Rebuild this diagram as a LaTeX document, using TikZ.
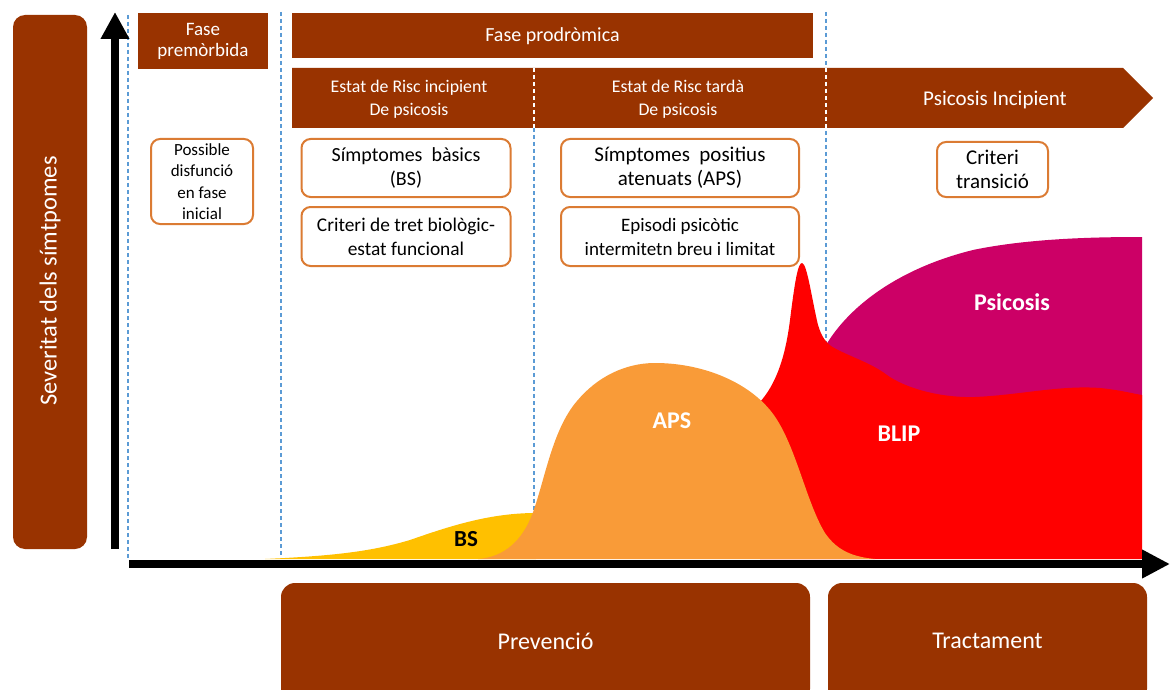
\documentclass[tikz,border=0pt]{standalone}
\usepackage{fontspec}
\setmainfont{Carlito}
\usetikzlibrary{arrows.meta}

\definecolor{phase}{HTML}{993300}
\definecolor{critedge}{HTML}{DB7B33}
\definecolor{divblue}{HTML}{5B9BD5}
\definecolor{bscol}{HTML}{FFC000}
\definecolor{apscol}{HTML}{F99B38}
\definecolor{blipcol}{HTML}{FF0000}
\definecolor{psicol}{HTML}{CC0066}

\tikzset{
  phasebox/.style={fill=phase, text=white, inner sep=0pt, outer sep=0pt, align=center},
  critbox/.style={draw=critedge, line width=2pt, rounded corners=9pt, fill=white,
    inner sep=0pt, outer sep=0pt, align=center, font=\fontsize{20}{24}\selectfont},
  actionbox/.style={fill=phase, text=white, rounded corners=14pt, inner sep=0pt,
    outer sep=0pt},
  actiontext/.style={text=white, font=\fontsize{24}{28}\selectfont},
  divider/.style={draw=divblue, line width=1.5pt, dash pattern=on 4pt off 3pt},
  divwhite/.style={draw=white, line width=1.5pt, dash pattern=on 4pt off 3pt},
  curvelabel/.style={font=\fontsize{24}{28}\selectfont\bfseries, text=white},
  axis/.style={line width=8.5pt, draw=black}
}

\begin{document}
\begin{tikzpicture}[x=1pt,y=-1pt]
\useasboundingbox (0,0) rectangle (1170,690);

% phase dividers
\coordinate (d1t) at (128,15);  \coordinate (d1b) at (128,560);
\coordinate (d2t) at (281,12);  \coordinate (d2b) at (281,557);
\coordinate (d3t) at (534,128); \coordinate (d3b) at (534,516);
\coordinate (d4t) at (826,12);  \coordinate (d4b) at (826,345);
\draw[divider] (d1t) -- (d1b);
\draw[divider] (d2t) -- (d2b);
\draw[divider] (d3t) -- (d3b);
\draw[divider] (d4t) -- (d4b);

% severity curves
\fill[psicol] (826,345) .. controls (850,305) and (900,268) .. (973,250)
  .. controls (1030,238) and (1100,237) .. (1142,237) -- (1142,420) -- (826,420) -- cycle;
\fill[blipcol] (760,559) -- (760,402) .. controls (775,385) and (785,360) .. (790,320)
  .. controls (795,280) and (798,263) .. (802,263)
  .. controls (807,263) and (812,300) .. (818,325)
  .. controls (822,338) and (826,342) .. (831,346)
  .. controls (845,355) and (870,362) .. (887,375)
  .. controls (905,388) and (940,398) .. (975,397)
  .. controls (1020,395) and (1060,385) .. (1100,388)
  .. controls (1120,390) and (1135,394) .. (1142,395) -- (1142,559) -- cycle;
\fill[bscol] (265,559) .. controls (330,556) and (370,552) .. (410,540)
  .. controls (450,526) and (490,513) .. (536,513) -- (536,559) -- cycle;
\fill[apscol] (478,559) .. controls (505,557) and (522,540) .. (532,515)
  .. controls (545,480) and (552,430) .. (577,401)
  .. controls (597,377) and (625,363) .. (655,363)
  .. controls (700,363) and (745,380) .. (770,410)
  .. controls (795,440) and (805,500) .. (825,533)
  .. controls (838,552) and (855,557) .. (875,559) -- cycle;

\node[font=\fontsize{23}{27}\selectfont\bfseries] (lbs) at (466,539) {BS};
\node[curvelabel] (laps) at (672,421) {APS};
\node[curvelabel] (lblip) at (899,434) {BLIP};
\node[curvelabel] (lpsi) at (1012,302) {Psicosis};

% vertical axis title
\node[phasebox, rounded corners=12pt, minimum width=74pt, minimum height=534pt]
  (sev) at (50,282) {};
\node[text=white, rotate=90, font=\fontsize{24.5}{28}\selectfont] (sevtext) at (50,281)
  {Severitat dels símtpomes};

% phase headers
\node[phasebox, minimum width=130pt, minimum height=56pt,
  font=\fontsize{19}{21}\selectfont] (premorb) at (203,41) {Fase\\premòrbida};
\node[phasebox, minimum width=521pt, minimum height=45pt,
  font=\fontsize{20}{22}\selectfont] (prodrom) at (552.5,36) {Fase prodròmica};
\fill[phase] (292,68) -- (1123,68) -- (1153,98) -- (1123,128) -- (292,128) -- cycle;
\node[text=white, align=center, font=\fontsize{17.8}{23}\selectfont] (early) at (409,99)
  {Estat de Risc incipient\\De psicosis};
\node[text=white, align=center, font=\fontsize{17.8}{23}\selectfont] (late) at (678,99)
  {Estat de Risc tardà\\De psicosis};
\node[text=white, font=\fontsize{21}{24}\selectfont] (incip) at (995,100)
  {Psicosis Incipient};
\draw[divwhite] (534,68) -- (534,128);
\draw[divwhite] (826,68) -- (826,128);

% criteria boxes
\node[critbox, minimum width=102pt, minimum height=85pt,
  font=\fontsize{17}{21.5}\selectfont] (posdis) at (202,181.5)
  {Possible\\disfunció\\en fase\\inicial};
\node[critbox, minimum width=209pt, minimum height=58pt] (bs) at (406,168)
  {Símptomes\ \ bàsics\\(BS)};
\node[critbox, minimum width=209pt, minimum height=59pt,
  font=\fontsize{19.4}{24}\selectfont] (tret) at (406,236.5)
  {Criteri de tret biològic-\\estat funcional};
\node[critbox, minimum width=238pt, minimum height=58pt,
  font=\fontsize{21}{24}\selectfont] (aps) at (680,168)
  {Símptomes\ \ positius\\atenuats (APS)};
\node[critbox, minimum width=238pt, minimum height=59pt,
  font=\fontsize{19}{24}\selectfont] (blip) at (680,236.5)
  {Episodi psicòtic\\intermitetn breu i limitat};
\node[critbox, minimum width=111pt, minimum height=55pt,
  font=\fontsize{21}{24}\selectfont] (trans) at (992.5,169.5)
  {Criteri\\transició};

% axes
\coordinate (yb) at (115,549);
\coordinate (yt) at (115,12);
\coordinate (xl) at (129,564);
\coordinate (xr) at (1170,564);
\draw[axis, -{Triangle[length=27pt,width=27pt]}] (yb) -- (yt);
\draw[axis, -{Triangle[length=28pt,width=27pt]}] (xl) -- (xr);

% intervention boxes
\node[actionbox, minimum width=529pt, minimum height=120pt, anchor=north]
  (prev) at (545.5,583) {};
\node[actiontext] (prevtext) at (545.5,641) {Prevenció};
\node[actionbox, minimum width=319pt, minimum height=120pt, anchor=north]
  (tract) at (987.5,583) {};
\node[actiontext] (tracttext) at (987.5,641) {Tractament};
\end{tikzpicture}
\end{document}
